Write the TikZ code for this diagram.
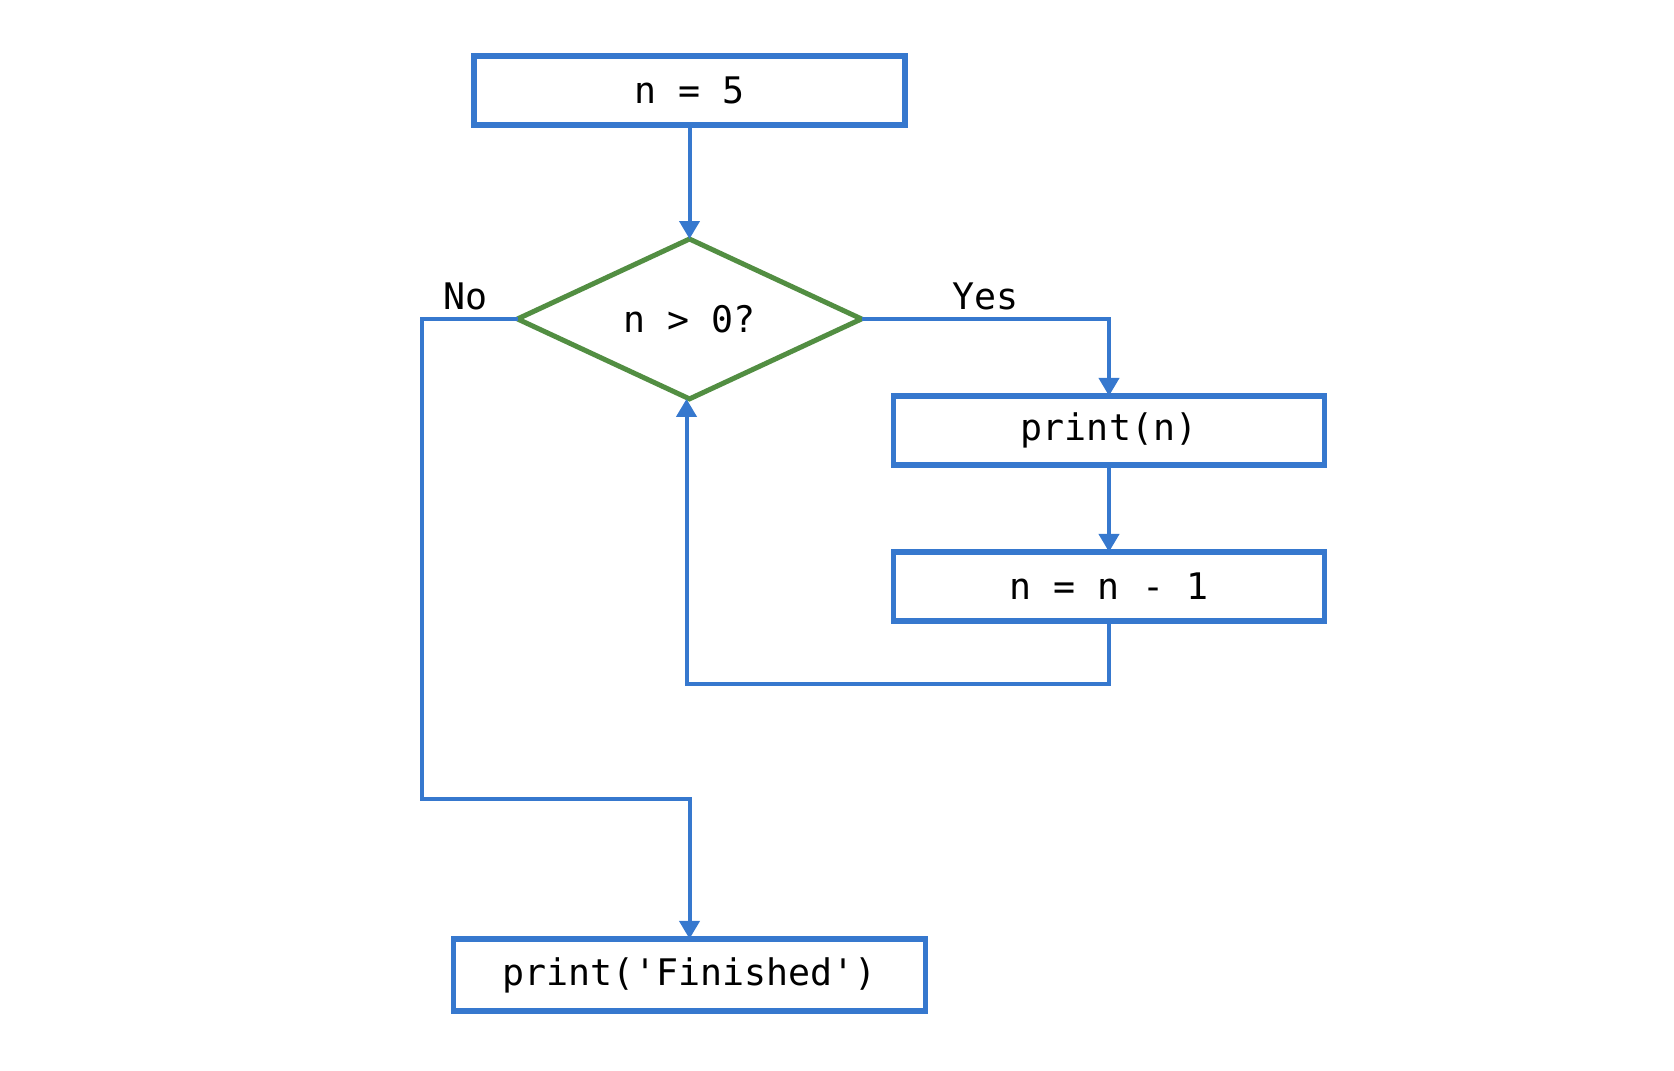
\documentclass[tikz,border=0pt]{standalone}
\usepackage{fontspec}
\setmonofont{DejaVu Sans Mono}
\usetikzlibrary{positioning,shapes.geometric,arrows.meta}
\definecolor{flowblue}{RGB}{54,120,206}
\definecolor{flowgreen}{RGB}{82,142,66}
\begin{document}
\begin{tikzpicture}[block/.style = {draw=flowblue, line width=2.75pt, minimum width=215.5pt, minimum height=34.5pt, inner sep=0pt, outer sep=0pt},
                    decision/.style = {draw=flowgreen, line width=2.5pt, diamond, minimum width=172pt, minimum height=78pt, inner sep=0pt, outer sep=0pt},
                    flow/.style = {draw=flowblue, line width=2pt, -{Triangle[length=9pt, width=10pt]}},
                    font=\ttfamily\fontsize{18.3pt}{22pt}\selectfont]
                \useasboundingbox (0,0) rectangle (837pt,-535pt);
                \node[block] (start) at (344.75pt,-45.25pt) {n = 5};
                \node[decision] (cond) [below=57pt of start] {n > 0?};
                \node[block] (pn) [below right=38.5pt and 16pt of cond.east] {print(n)};
                \node[block] (dec) [below=43.5pt of pn] {n = n - 1};
                \node[block, minimum width=236pt, minimum height=36pt] (fin) [below=270pt of cond] {print('Finished')};
                \coordinate[above=70pt of fin.north] (nojoin);
        
                \draw[flow] (start) -- (cond);
                \draw[flow] (cond.east) -| node[pos=0.25, above] {Yes} (pn.north);
                \draw[flow] (pn) -- (dec);
                \draw[flow] (dec.south) -- ++(0,-31.5pt) -| ([xshift=-1.5pt]cond.south);
                \draw[flow] (cond.west) -- ++(-48pt,0) node[midway, above, xshift=-2pt] {No} |- (nojoin) -- (fin.north);
            \end{tikzpicture}
\end{document}
